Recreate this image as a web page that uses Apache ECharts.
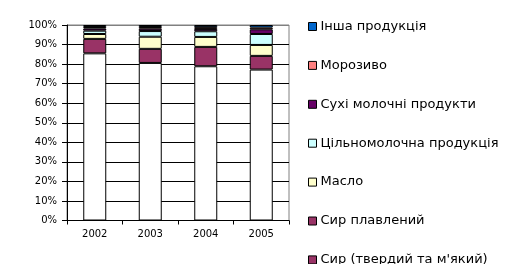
<!DOCTYPE html>
<html><head><meta charset="utf-8">
<script src="https://cdn.jsdelivr.net/npm/echarts@6/dist/echarts.min.js"></script>
<style>html,body{margin:0;padding:0;background:#fff}#c{width:510px;height:264px}</style>
</head><body><div id="c"></div>
<script>
const years = ['2002','2003','2004','2005'];
const seriesNames = ['Сир (твердий та м\'який)','Сир плавлений','Масло','Цільномолочна продукція','Сухі молочні продукти','Морозиво','Інша продукція'];
const cheeseHard = [85.5, 80.6, 78.9, 77.2];
const cheeseMelted = [7.4, 7.2, 9.9, 7.0];
const butter = [2.5, 6.2, 5.1, 5.6];
const wholeMilk = [1.7, 2.9, 2.9, 5.6];
const dryMilk = [1.1, 1.2, 1.2, 2.4];
const iceCream = [0.8, 0.9, 0.9, 0.9];
const other = [1.0, 1.0, 1.1, 1.3];
const yTicks = [0,10,20,30,40,50,60,70,80,90,100];

const values = [cheeseHard, cheeseMelted, butter, wholeMilk, dryMilk, iceCream, other];
const colors = ['#FFFFFF','#993366','#FFFFCC','#CCFFFF','#660066','#FF8080','#0066CC'];
const legendColors = ['#993366','#993366','#FFFFCC','#CCFFFF','#660066','#FF8080','#0066CC'];

const series = seriesNames.map((n,i)=>({
  name:n, type:'bar', stack:'s', barWidth:23,
  data: values[i],
  itemStyle:{color:colors[i], borderColor:'#000', borderWidth:1},
  emphasis:{disabled:true}
}));

const legendData = seriesNames.map((n,i)=>({name:n, itemStyle:{color:legendColors[i], borderColor:'#000', borderWidth:1}})).reverse();

const splitColors = yTicks.map((t,i)=> i===yTicks.length-1 ? '#808080' : '#000');

const chart = echarts.init(document.getElementById('c'), null, {renderer:'canvas'});
chart.setOption({
  animation:false,
  backgroundColor:'#fff',
  textStyle:{fontFamily:'DejaVu Sans'},
  grid:{left:67, right:221, top:25, bottom:43.5, show:true, borderColor:'#808080', borderWidth:1, backgroundColor:'transparent'},
  legend:{
    orient:'vertical', left:303, top:15, height:500, itemWidth:8, itemHeight:8, itemGap:25.9,
    icon:'rect', data:legendData, selectedMode:false,
    textStyle:{fontFamily:'DejaVu Sans', fontSize:13, color:'#000', padding:[0,0,0,-1]}
  },
  xAxis:{
    type:'category', data:years,
    axisLine:{lineStyle:{color:'#000', width:1}},
    axisTick:{show:true, length:4, lineStyle:{color:'#000'}, inside:false},
    axisLabel:{fontSize:10, color:'#000', margin:9, fontFamily:'DejaVu Sans'}
  },
  yAxis:{
    type:'value', min:0, max:100, interval:10,
    axisLine:{show:true, lineStyle:{color:'#000', width:1}},
    axisTick:{show:true, length:5, lineStyle:{color:'#000'}},
    axisLabel:{fontSize:10, color:'#000', margin:10, formatter: v => v + '%', fontFamily:'DejaVu Sans'},
    splitLine:{show:true, lineStyle:{color:splitColors, width:1}}
  },
  series: series
});
</script></body></html>
